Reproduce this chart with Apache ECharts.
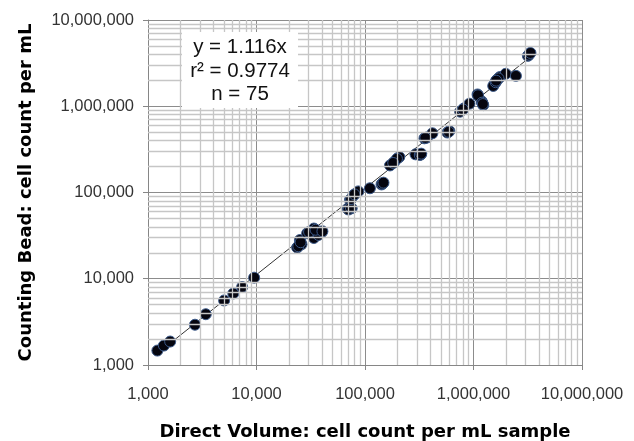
<!DOCTYPE html>
<html>
<head>
<meta charset="utf-8">
<script src="https://cdn.jsdelivr.net/npm/echarts@6/dist/echarts.min.js"></script>
<style>
html,body{margin:0;padding:0;background:#fff;}
#chart{width:634px;height:441px;}
</style>
</head>
<body>
<div id="chart"></div>
<script>
// Direct Volume (x) vs Counting Bead (y), cells per mL
const directVolume = [1220,1400,1600,2710,3410,5030,6110,7370,9510,23700,25100,26000,29300,33800,33800,39800,37200,69200,75400,72700,78000,86800,111000,146000,142000,170000,186000,207000,197000,292000,327000,353000,373000,418000,600000,575000,753000,820000,918000,1090000,1190000,1230000,1570000,1640000,1750000,1980000,2460000,3170000,3310000,1520000,
24300,25500,30500,35000,40500,70500,74000,74500,80000,144000,148000,182000,320000,330000,360000,590000,800000,1100000,1200000,1220000,1600000,1700000,1620000,3250000,3350000];
const countingBead = [1470,1680,1870,2930,3880,5600,6750,8020,10290,23000,28100,25100,33600,38200,29700,34600,32200,64900,65600,81900,92300,103000,112000,128000,124000,206000,226000,258000,246000,277000,277000,425000,434000,486000,516000,496000,865000,947000,1070000,1370000,1140000,1030000,1850000,2020000,2180000,2380000,2250000,3840000,4110000,1720000,
23800,26500,34800,37000,35500,63500,67000,84000,95000,126000,130000,220000,272000,282000,430000,505000,920000,1340000,1100000,1060000,1900000,2100000,1980000,3950000,4150000];
const slope = 1.116;
const fitRange = [1220, 3400000];
const axisMin = 1000, axisMax = 10000000;
const decades = [1000, 10000, 100000, 1000000];
const minorMultiples = [2,3,4,5,6,7,8,9];
const statLines = ['y = 1.116x', 'r\u00B2 = 0.9774', 'n = 75'];

const points = directVolume.map((x,i)=>[x, countingBead[i]]);
const fitLine = fitRange.map(x=>[x, slope*x]);
const minorVals = [];
decades.forEach(d=>minorMultiples.forEach(m=>minorVals.push(d*m)));

const fmt = v => Math.round(v).toLocaleString('en-US');
const FONT = '"Liberation Sans", Arial, sans-serif';
const TITLE_FONT = '"DejaVu Sans", Verdana, sans-serif';

const chart = echarts.init(document.getElementById('chart'));
chart.setOption({
  animation:false,
  backgroundColor:'#fff',
  grid:{left:148,right:52,top:20,bottom:76,containLabel:false,outerBoundsMode:'none'},
  xAxis:{
    type:'log', logBase:10, min:axisMin, max:axisMax,
    name:'Direct Volume: cell count per mL sample',
    nameLocation:'middle', nameGap:58,
    nameTextStyle:{fontFamily:TITLE_FONT,fontWeight:'bold',fontSize:18,color:'#000'},
    axisLine:{show:true,onZero:false,lineStyle:{color:'#868686',width:1}},
    axisTick:{show:true,length:5,lineStyle:{color:'#868686'}},
    axisLabel:{formatter:fmt,fontFamily:FONT,fontSize:16.5,color:'#333',margin:21},
    splitLine:{show:true,lineStyle:{color:'#8c8c8c',width:1}},
    minorTick:{show:false}, minorSplitLine:{show:false}
  },
  yAxis:{
    type:'log', logBase:10, min:axisMin, max:axisMax,
    name:'Counting Bead: cell count per mL',
    nameLocation:'middle', nameGap:113, nameRotate:90,
    nameTextStyle:{fontFamily:TITLE_FONT,fontWeight:'bold',fontSize:18,color:'#000'},
    axisLine:{show:true,onZero:false,lineStyle:{color:'#868686',width:1}},
    axisTick:{show:true,length:5,lineStyle:{color:'#868686'}},
    axisLabel:{formatter:fmt,fontFamily:FONT,fontSize:16.5,color:'#333',margin:14},
    splitLine:{show:true,lineStyle:{color:'#8c8c8c',width:1}},
    minorTick:{show:false}, minorSplitLine:{show:false}
  },
  series:[
    {
      type:'line', data:[], z:1, silent:true,
      markLine:{
        silent:true, symbol:'none', label:{show:false},
        lineStyle:{color:'#c6c6c6',width:1.3,type:'solid'},
        animation:false,
        data: minorVals.map(v=>({xAxis:v})).concat(minorVals.map(v=>({yAxis:v})))
      }
    },
    {
      type:'line', data:fitLine, z:3, symbol:'none', silent:true,
      lineStyle:{color:'#333',width:1}
    },
    {
      type:'scatter', data:points, z:4, symbol:'circle', symbolSize:11,
      itemStyle:{color:'#05050f',borderColor:'#3c5a8a',borderWidth:1,opacity:1}
    }
  ],
  graphic:[
    {type:'rect', shape:{x:182,y:32,width:116,height:76}, style:{fill:'#fff'}, z:100},
    {type:'text', z:101, style:{
      text:statLines.join('\n'), x:240, y:71, align:'center', verticalAlign:'middle',
      font:'20.5px "Liberation Sans", Arial, sans-serif', lineHeight:23.5, fill:'#111'
    }}
  ]
});
</script>
</body>
</html>
